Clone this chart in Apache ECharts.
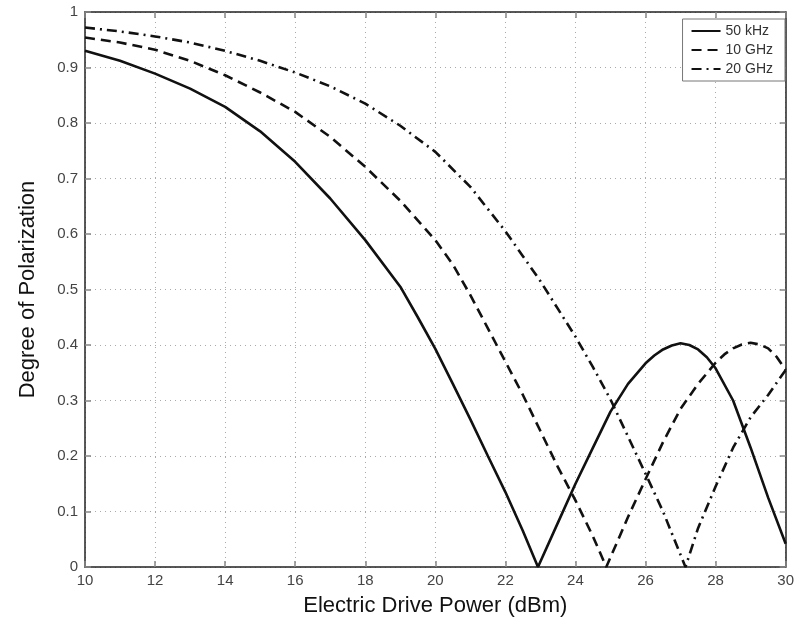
<!DOCTYPE html>
<html style="height: 100%">
<head>
    <meta charset="utf-8">
</head>
<body style="height: 100%; margin: 0; background: #fff">
    <div id="container" style="width: 797px; height: 625px"></div>
    <script src="https://cdn.jsdelivr.net/npm/echarts@6/dist/echarts.min.js"></script>
    <script type="text/javascript">
        // values: [power dBm, degree of polarization]
        var khz50 = [
            [10, 0.93], [11, 0.912], [12, 0.889], [13, 0.862], [14, 0.829], [15, 0.785],
            [16, 0.73], [17, 0.664], [18, 0.589], [19, 0.505], [19.5, 0.45], [20, 0.393],
            [20.5, 0.33], [21, 0.266], [21.5, 0.2], [22, 0.135], [22.5, 0.065], [22.93, 0],
            [23.5, 0.08], [24, 0.15], [24.5, 0.215], [25, 0.28], [25.5, 0.33], [26, 0.367],
            [26.25, 0.381], [26.5, 0.392], [26.75, 0.399], [27, 0.403], [27.25, 0.4],
            [27.5, 0.392], [27.75, 0.378], [28, 0.358], [28.5, 0.3], [29, 0.215],
            [29.5, 0.125], [30, 0.042]
        ];
        var ghz10 = [
            [10, 0.954], [11, 0.945], [12, 0.932], [13, 0.912], [14, 0.886], [15, 0.855],
            [16, 0.82], [17, 0.775], [18, 0.721], [19, 0.66], [20, 0.589], [20.5, 0.545],
            [21, 0.49], [21.5, 0.43], [22, 0.37], [22.5, 0.31], [23, 0.245], [23.5, 0.18],
            [24, 0.12], [24.5, 0.055], [24.88, 0], [25.5, 0.09], [26, 0.158], [26.5, 0.225],
            [27, 0.285], [27.5, 0.33], [28, 0.368], [28.25, 0.383], [28.5, 0.394],
            [28.75, 0.401], [29, 0.404], [29.25, 0.401], [29.5, 0.394], [29.75, 0.378],
            [30, 0.355]
        ];
        var ghz20 = [
            [10, 0.972], [11, 0.965], [12, 0.956], [13, 0.945], [14, 0.93], [15, 0.912],
            [16, 0.891], [17, 0.866], [18, 0.835], [19, 0.795], [20, 0.748], [21, 0.685],
            [22, 0.605], [22.5, 0.56], [23, 0.515], [23.5, 0.465], [24, 0.415], [24.5, 0.36],
            [25, 0.302], [25.5, 0.235], [26, 0.168], [26.5, 0.1], [27.14, 0], [27.5, 0.07],
            [28, 0.145], [28.5, 0.215], [29, 0.27], [29.5, 0.31], [30, 0.355]
        ];
        var names = ['50 kHz', '10 GHz', '20 GHz'];
        var xTicks = [10, 12, 14, 16, 18, 20, 22, 24, 26, 28, 30];
        var yTicks = [0, 0.1, 0.2, 0.3, 0.4, 0.5, 0.6, 0.7, 0.8, 0.9, 1];

        var font = 'Liberation Sans, Arial, sans-serif';
        var axisLine = { show: true, onZero: false, lineStyle: { color: '#222', width: 1.5 } };
        var tick = { show: true, inside: true, length: 6, lineStyle: { color: '#888', width: 1.5 } };
        var gridLine = { show: true, lineStyle: { color: '#aaa', type: [1, 4], width: 1 } };

        var myChart = echarts.init(document.getElementById('container'));
        var option = {
            backgroundColor: '#fff',
            animation: false,
            grid: { left: 85, right: 8, top: 12, bottom: 58 },
            legend: {
                data: names,
                orient: 'vertical',
                right: 12,
                top: 19,
                itemWidth: 29,
                itemHeight: 12,
                itemGap: 5,
                padding: [5, 12, 5, 8],
                backgroundColor: '#fff',
                borderColor: '#777',
                borderWidth: 1,
                borderRadius: 0,
                itemStyle: { opacity: 0 },
                textStyle: { fontFamily: font, fontSize: 14, color: '#333' }
            },
            xAxis: [{
                type: 'value',
                min: 10, max: 30, interval: 2,
                name: 'Electric Drive Power (dBm)',
                nameLocation: 'middle',
                nameGap: 28,
                nameTextStyle: { fontFamily: font, fontSize: 22, color: '#111' },
                axisLine: axisLine,
                axisTick: tick,
                splitLine: gridLine,
                axisLabel: {
                    margin: 6, fontFamily: font, fontSize: 15, color: '#444',
                    formatter: function (v) { return xTicks.indexOf(v) >= 0 ? String(v) : ''; }
                }
            }, {
                type: 'value', position: 'top',
                min: 10, max: 30, interval: 2,
                axisLine: axisLine, axisTick: tick,
                axisLabel: { show: false }, splitLine: { show: false }
            }],
            yAxis: [{
                type: 'value',
                min: 0, max: 1, interval: 0.1,
                name: 'Degree of Polarization',
                nameLocation: 'middle',
                nameGap: 46,
                nameTextStyle: { fontFamily: font, fontSize: 22, color: '#111' },
                axisLine: axisLine,
                axisTick: tick,
                splitLine: gridLine,
                axisLabel: {
                    margin: 7, fontFamily: font, fontSize: 15, color: '#444',
                    formatter: function (v) {
                        var r = Math.round(v * 10) / 10;
                        return yTicks.indexOf(r) >= 0 ? String(r) : '';
                    }
                }
            }, {
                type: 'value', position: 'right',
                min: 0, max: 1, interval: 0.1,
                axisLine: axisLine, axisTick: tick,
                axisLabel: { show: false }, splitLine: { show: false }
            }],
            series: [{
                name: names[0], type: 'line', data: khz50,
                symbol: 'none', smooth: false,
                itemStyle: { color: '#111' },
                lineStyle: { color: '#111', width: 2.6, type: 'solid' }
            }, {
                name: names[1], type: 'line', data: ghz10,
                symbol: 'none', smooth: false,
                itemStyle: { color: '#111' },
                lineStyle: { color: '#111', width: 2.6, type: [10, 6] }
            }, {
                name: names[2], type: 'line', data: ghz20,
                symbol: 'none', smooth: false,
                itemStyle: { color: '#111' },
                lineStyle: { color: '#111', width: 2.6, type: [10, 5, 2, 5] }
            }]
        };
        myChart.setOption(option);
    </script>
</body>
</html>
